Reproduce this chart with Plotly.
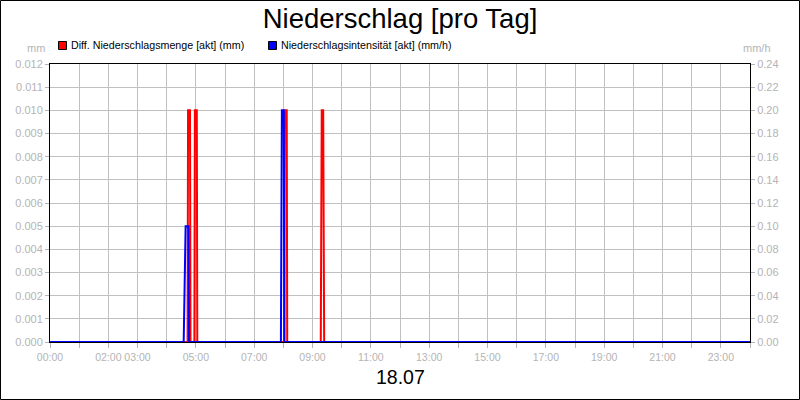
import plotly.graph_objects as go

# ---- data ----
red_times = ["00:00", "04:43", "04:44", "04:48", "04:49", "04:57", "04:58", "05:02", "05:03",
             "08:02", "08:03", "08:07", "08:08", "09:17", "09:19", "09:22", "09:24", "24:00"]
red_values = [0, 0, 0.01, 0.01, 0, 0, 0.01, 0.01, 0,
              0, 0.01, 0.01, 0, 0, 0.01, 0.01, 0, 0]

blue_times = ["00:00", "04:35", "04:39", "04:45", "04:46", "07:55", "07:57", "08:01", "08:02", "24:00"]
blue_values = [0, 0, 0.10, 0.10, 0, 0, 0.20, 0.20, 0, 0]

tick_hours = list(range(0, 25))
tick_labels = ["00:00", "", "02:00", "03:00", "", "05:00", "", "07:00", "", "09:00", "", "11:00", "",
               "13:00", "", "15:00", "", "17:00", "", "19:00", "", "21:00", "", "23:00", ""]

red_name = "Diff. Niederschlagsmenge [akt] (mm)"
blue_name = "Niederschlagsintensität [akt] (mm/h)"
title_text = "Niederschlag [pro Tag]"
date_label = "18.07"


def to_hours(t):
    h, m = t.split(":")
    return int(h) + int(m) / 60.0


red_x = [to_hours(t) for t in red_times]
blue_x = [to_hours(t) for t in blue_times]

FONT = "Arial, Liberation Sans, sans-serif"
GRAY = "#b4b4b4"
GRID = "#c0c0c0"

L, R, T, B = 50, 50, 64, 58
W, H = 800, 400
pw, ph = W - L - R, H - T - B


def px_x(p):
    return (p - L) / pw


def px_y(p):
    return (H - B - p) / ph


fig = go.Figure()
fig.add_trace(go.Scatter(x=blue_x, y=blue_values, mode="lines", yaxis="y2",
                         line=dict(color="#0000ff", width=2), showlegend=False, name=blue_name))
fig.add_trace(go.Scatter(x=red_x, y=red_values, mode="lines", yaxis="y",
                         line=dict(color="#ff0000", width=2), showlegend=False, name=red_name))

# legend drawn as swatches + text
legend_items = [(red_name, "#ff0000", 58), (blue_name, "#0000ff", 268)]
shapes = [
    dict(type="rect", xref="paper", yref="paper", x0=px_x(0.5), x1=px_x(799.5),
         y0=px_y(399.5), y1=px_y(0.5), line=dict(color="black", width=1), layer="above"),
]
annotations = [
    dict(text="mm", xref="paper", yref="paper", x=px_x(47), y=px_y(48), xanchor="right",
         yanchor="middle", showarrow=False, font=dict(family=FONT, size=11, color=GRAY)),
    dict(text="mm/h", xref="paper", yref="paper", x=px_x(757), y=px_y(48), xanchor="center",
         yanchor="middle", showarrow=False, font=dict(family=FONT, size=11, color=GRAY)),
    dict(text=date_label, xref="paper", yref="paper", x=0.5, y=px_y(377), xanchor="center",
         yanchor="middle", showarrow=False, font=dict(family=FONT, size=19.5, color="black")),
]
for name, col, x0 in legend_items:
    shapes.append(dict(type="rect", xref="paper", yref="paper", x0=px_x(x0 + 0.5), x1=px_x(x0 + 8.5),
                       y0=px_y(49.5), y1=px_y(41.5), fillcolor=col,
                       line=dict(color="#000000", width=1), layer="above"))
    annotations.append(dict(text=name, xref="paper", yref="paper", x=px_x(x0 + 11), y=px_y(45.5),
                            xanchor="left", yanchor="middle", showarrow=False,
                            font=dict(family=FONT, size=10.7, color="black")))

fig.update_layout(
    width=W, height=H,
    margin=dict(l=L, r=R, t=T, b=B, autoexpand=False),
    paper_bgcolor="white", plot_bgcolor="white",
    font=dict(family=FONT, size=11, color="black"),
    title=dict(text=title_text, x=0.5, xanchor="center", y=1 - 18 / H, yanchor="middle",
               font=dict(family=FONT, size=27.5, color="black")),
    showlegend=False,
    xaxis=dict(range=[0, 24], tickvals=tick_hours, ticktext=tick_labels, showgrid=True,
               gridcolor=GRID, gridwidth=1, zeroline=False, showline=True, linecolor="black",
               linewidth=1, mirror=True, ticks="outside", ticklen=5, tickcolor=GRAY,
               tickfont=dict(family=FONT, size=10.5, color=GRAY), tickangle=0),
    yaxis=dict(range=[0, 0.012], dtick=0.001, tick0=0, tickformat=".3f", showgrid=True,
               gridcolor=GRID, gridwidth=1, zeroline=False, showline=True, linecolor="black",
               linewidth=1, mirror=True, ticks="outside", ticklen=4, tickcolor=GRAY,
               tickfont=dict(family=FONT, size=11, color=GRAY)),
    yaxis2=dict(range=[0, 0.24], dtick=0.02, tick0=0, tickformat=".2f", overlaying="y",
                side="right", showgrid=False, zeroline=False, showline=False,
                ticks="outside", ticklen=4, tickcolor=GRAY,
                tickfont=dict(family=FONT, size=11, color=GRAY)),
    annotations=annotations,
    shapes=shapes,
)

fig.write_html("out.html", config={"displayModeBar": False},
               post_script="document.body.style.margin='0';")
